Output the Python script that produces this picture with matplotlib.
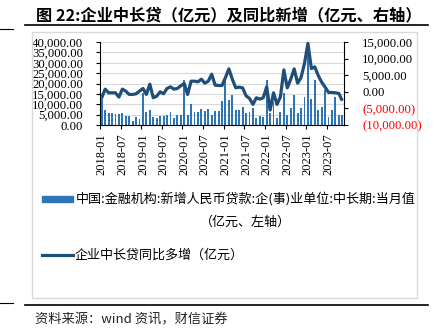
import matplotlib
matplotlib.use('Agg')
import matplotlib.pyplot as plt
from matplotlib.lines import Line2D
from matplotlib.patches import Rectangle
import numpy as np

plt.rcParams['font.family'] = ['Noto Sans CJK SC', 'DejaVu Sans']

# ---------------- data ----------------
months = [f"{y}-{m:02d}" for y in range(2018, 2024) for m in range(1, 13)][:71]

# 中国:金融机构:新增人民币贷款:企(事)业单位:中长期:当月值 (亿元, 左轴)
loans = [
    13500, 7200, 5600, 5600, 5100, 5100, 5600, 4300, 4300, 2000, 4000, 2700,
    15300, 6100, 7200, 3700, 3200, 4300, 4300, 4800, 6100, 3200, 4800, 4800,
    21700, 4800, 10100, 6100, 6100, 7700, 6900, 7700, 4800, 6700, 6700, 11600,
    21200, 12000, 14500, 7200, 7200, 8800, 5600, 6100, 8000, 3500, 4500, 4000,
    21700, 5600, 11000, 3200, 6400, 15300, 4800, 8000, 14500, 5600, 8000, 13600,
    39400, 12500, 21500, 7300, 8600, 16700, 3700, 7300, 13300, 4700, 5000,
]

# 企业中长贷同比多增 (亿元, 右轴)
yoy = [
    -1800, 800, -300, -300, -300, -1600, 800, 200, -800, -800, -600, 200,
    1000, -800, 2300, -1800, -1300, 0, -600, 1000, 1500, 800, 1000, 1800,
    2500, -800, 3200, 3200, 3000, 3800, 2600, 3200, 5300, 2000, 1900, 1900,
    4300, 6900, 3800, 1200, 1400, 1200, -1200, -2000, -3800, -1800, -2200, -1800,
    1500, -5500, -300, -3800, -1500, 6600, 1200, 3800, 6900, 2600, 4300, 8500,
    14600, 7000, 7500, 4900, 2900, 1400, -200, -200, -300, -500, -2700,
]

xtick_labels = months[::6]
left_ticks = [0, 5000, 10000, 15000, 20000, 25000, 30000, 35000, 40000]
right_ticks = [-10000, -5000, 0, 5000, 10000, 15000]

title = "图 22:企业中长贷（亿元）及同比新增（亿元、右轴）"
legend_bar = "中国:金融机构:新增人民币贷款:企(事)业单位:中长期:当月值"
legend_bar2 = "（亿元、左轴）"
legend_line = "企业中长贷同比多增（亿元）"
source = "资料来源：wind 资讯，财信证券"

# ---------------- style ----------------
W, H = 437, 335
BAR = '#2E75B6'
LINE = '#1F4E79'
SERIF = 'Liberation Serif'

def fx(px):
    return px / W

def fy(py):
    return 1 - py / H

fig = plt.figure(figsize=(W / 100, H / 100), dpi=100)

# outer chart frame
fig.add_artist(Rectangle((fx(32), fy(298)), fx(417) - fx(32), fy(32) - fy(298),
                         transform=fig.transFigure, fill=False,
                         edgecolor='#d9d9d9', lw=1.0))
# separator lines
fig.add_artist(Line2D([fx(25), fx(428)], [fy(25), fy(25)], color='black', lw=1.2,
                      transform=fig.transFigure))
fig.add_artist(Line2D([fx(0), fx(13)], [fy(29), fy(29)], color='black', lw=0.8,
                      transform=fig.transFigure))
fig.add_artist(Line2D([fx(25), fx(428)], [fy(305), fy(305)], color='black', lw=1.2,
                      transform=fig.transFigure))
fig.add_artist(Line2D([fx(0), fx(13)], [fy(303), fy(303)], color='black', lw=0.8,
                      transform=fig.transFigure))

fig.text(fx(229), fy(15), title, ha='center', va='center', fontsize=11.7,
         fontweight='bold', color='black')
fig.text(fx(35), fy(320), source, ha='left', va='center', fontsize=9.5,
         color='#222222', style='italic')

ax = fig.add_axes([fx(100), fy(125), fx(344) - fx(100), fy(42) - fy(125)])
x = np.arange(len(months))
ax.bar(x, loans, width=0.55, color=BAR, zorder=2)
ax.set_xlim(-0.5, len(months) - 0.5)
ax.set_ylim(0, 40000)
ax.set_yticks(left_ticks, labels=[f"{v:,.2f}" for v in left_ticks])
ax.yaxis.grid(True, color='#d9d9d9', lw=0.8)
ax.set_axisbelow(True)
ax.tick_params(axis='y', length=3, width=0.8, pad=9, labelsize=9.2, color='black')
for lab in ax.get_yticklabels():
    lab.set_family(SERIF)

ax.set_xticks(np.arange(-0.5, len(months), 6))
ax.set_xticklabels([])
ax.set_xticks(x[::6], minor=True)
ax.set_xticklabels(xtick_labels, minor=True, rotation=90, fontsize=9, family=SERIF)
ax.tick_params(axis='x', which='major', length=3, width=0.8, color='black')
ax.tick_params(axis='x', which='minor', length=0, pad=6)
for s in ['top', 'right']:
    ax.spines[s].set_visible(False)
for s in ['left', 'bottom']:
    ax.spines[s].set_color('black')
    ax.spines[s].set_linewidth(0.8)

ax2 = ax.twinx()
ax2.plot(x, yoy, color=LINE, lw=2.3, solid_joinstyle='round', solid_capstyle='butt', zorder=3)
ax2.set_ylim(-10000, 15000)
rlabels = [f"({abs(v):,.2f})" if v < 0 else f"{v:,.2f}" for v in right_ticks]
ax2.set_yticks(right_ticks, labels=rlabels)
ax2.tick_params(axis='y', length=3, width=0.8, pad=10, labelsize=9.2, color='black')
for lab, v in zip(ax2.get_yticklabels(), right_ticks):
    lab.set_family(SERIF)
    if v < 0:
        lab.set_color('#FF0000')
for s in ['top', 'left', 'bottom']:
    ax2.spines[s].set_visible(False)
ax2.spines['right'].set_color('black')
ax2.spines['right'].set_linewidth(0.8)

# legend (drawn manually to mimic layout)
fig.add_artist(Rectangle((fx(42), fy(202)), fx(73) - fx(42), fy(196) - fy(202),
                         transform=fig.transFigure, color=BAR))
fig.text(fx(76), fy(199), legend_bar, ha='left', va='center', fontsize=9.4)
fig.text(fx(245), fy(222), legend_bar2, ha='center', va='center', fontsize=9.4)
fig.add_artist(Line2D([fx(42), fx(73)], [fy(255), fy(255)], color=LINE, lw=2.3,
                      transform=fig.transFigure))
fig.text(fx(75), fy(255), legend_line, ha='left', va='center', fontsize=9.4)

fig.savefig('out.png', dpi=100)
